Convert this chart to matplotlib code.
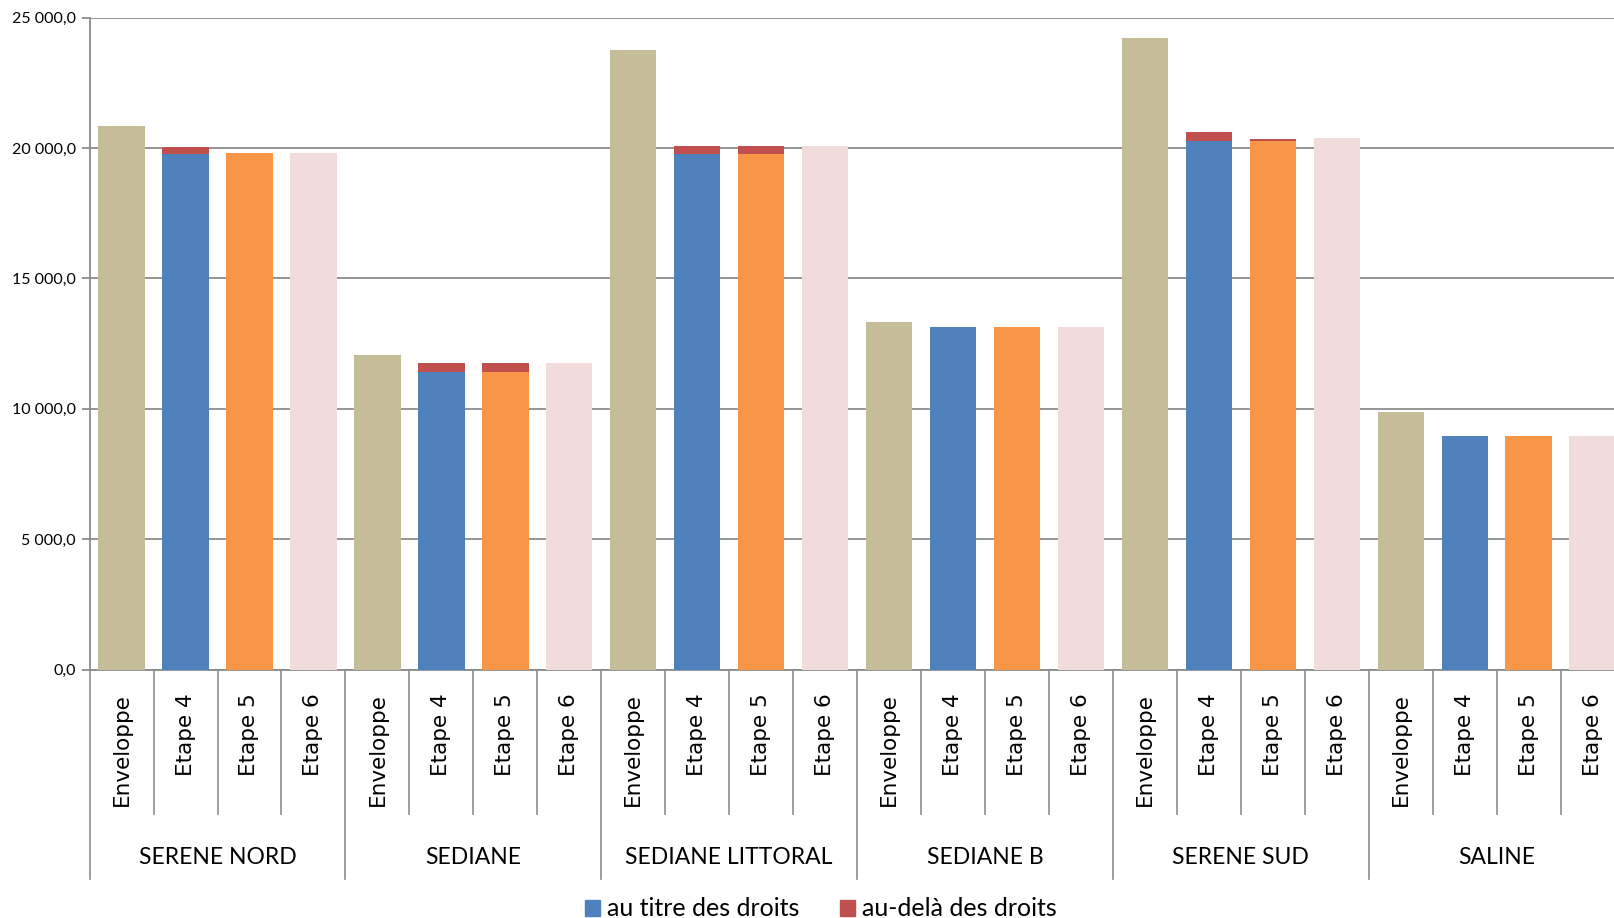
import matplotlib
matplotlib.use("Agg")
import matplotlib.pyplot as plt
import matplotlib.transforms as mtransforms
from matplotlib.patches import Patch
from matplotlib.ticker import FuncFormatter
import numpy as np

groups = ["SERENE NORD", "SEDIANE", "SEDIANE LITTORAL", "SEDIANE B", "SERENE SUD", "SALINE"]
stages = ["Enveloppe", "Etape 4", "Etape 5", "Etape 6"]

enveloppe = [20850, 12045, 23760, 13325, 24210, 9875]
e4_droits = [19780, 11430, 19770, 13130, 20260, 8955]
e4_audela = [255, 345, 295, 0, 340, 0]
e5_droits = [19795, 11430, 19770, 13130, 20265, 8955]
e5_audela = [25, 345, 295, 0, 90, 0]
e6 = [19820, 11775, 20070, 13130, 20390, 8955]

legend_labels = ["au titre des droits", "au-delà des droits"]

C_ENV = "#C4BD97"
C_BLUE = "#4F81BD"
C_ORANGE = "#F79646"
C_PINK = "#F2DCDB"
C_RED = "#C0504D"
C_GRID = "#8C8C8C"

W, H = 1615, 918
fig = plt.figure(figsize=(W / 100, H / 100), dpi=100)
ax_left, ax_right = 89.6, 1624.6
ax_top, ax_bot = 17.5, 669.7
ax = fig.add_axes([ax_left / W, 1 - ax_bot / H, (ax_right - ax_left) / W, (ax_bot - ax_top) / H])

n_g = len(groups)
n_s = len(stages)
bw = 0.725
for g in range(n_g):
    base = g * n_s
    ax.bar(base + 0.5, enveloppe[g], width=bw, color=C_ENV, zorder=3)
    ax.bar(base + 1.5, e4_droits[g], width=bw, color=C_BLUE, zorder=3)
    ax.bar(base + 1.5, e4_audela[g], bottom=e4_droits[g], width=bw, color=C_RED, zorder=3)
    ax.bar(base + 2.5, e5_droits[g], width=bw, color=C_ORANGE, zorder=3)
    ax.bar(base + 2.5, e5_audela[g], bottom=e5_droits[g], width=bw, color=C_RED, zorder=3)
    ax.bar(base + 3.5, e6[g], width=bw, color=C_PINK, zorder=3)

ax.set_xlim(0, n_g * n_s)
ax.set_ylim(0, 25000)
ax.set_yticks(np.arange(0, 25001, 5000))
ax.yaxis.set_major_formatter(FuncFormatter(
    lambda v, p: (f"{v:,.1f}").replace(",", " ").replace(".", ",")))
ax.grid(axis="y", color=C_GRID, linewidth=1.3, zorder=0)
ax.set_xticks([])
for s in ["top", "right"]:
    ax.spines[s].set_visible(False)
for s in ["left", "bottom"]:
    ax.spines[s].set_color(C_GRID)
    ax.spines[s].set_linewidth(1.3)
ax.tick_params(axis="y", length=6, width=1.3, color=C_GRID, pad=4,
               labelsize=11.5)
for lbl in ax.get_yticklabels():
    lbl.set_family("Lato")

ax_h = ax_bot - ax_top
def yfrac(py):
    return (ax_bot - py) / ax_h

trans = mtransforms.blended_transform_factory(ax.transData, ax.transAxes)
y_small = yfrac(814)
y_big = yfrac(879)
for i in range(n_g * n_s + 1):
    yb = y_big if i % n_s == 0 else y_small
    ax.plot([i, i], [0, yb], color=C_GRID, linewidth=1.2, transform=trans,
            clip_on=False, zorder=1)

for g in range(n_g):
    for s in range(n_s):
        ax.text(g * n_s + s + 0.5, yfrac(693), stages[s], rotation=90,
                ha="center", va="top", fontsize=15.5, family="DejaVu Sans",
                transform=trans)
    ax.text(g * n_s + n_s / 2, yfrac(857), groups[g], ha="center", va="center",
            fontsize=16.5, family="Lato", transform=trans)

handles = [Patch(color=C_BLUE), Patch(color=C_RED)]
fig.legend(handles, legend_labels, loc="center", bbox_to_anchor=(821 / W, 1 - 909 / H),
           ncol=2, frameon=False, prop={"family": "Lato", "size": 18},
           handlelength=0.6, handleheight=0.6, handletextpad=0.3, columnspacing=1.6)

fig.savefig("out.png", dpi=100)
